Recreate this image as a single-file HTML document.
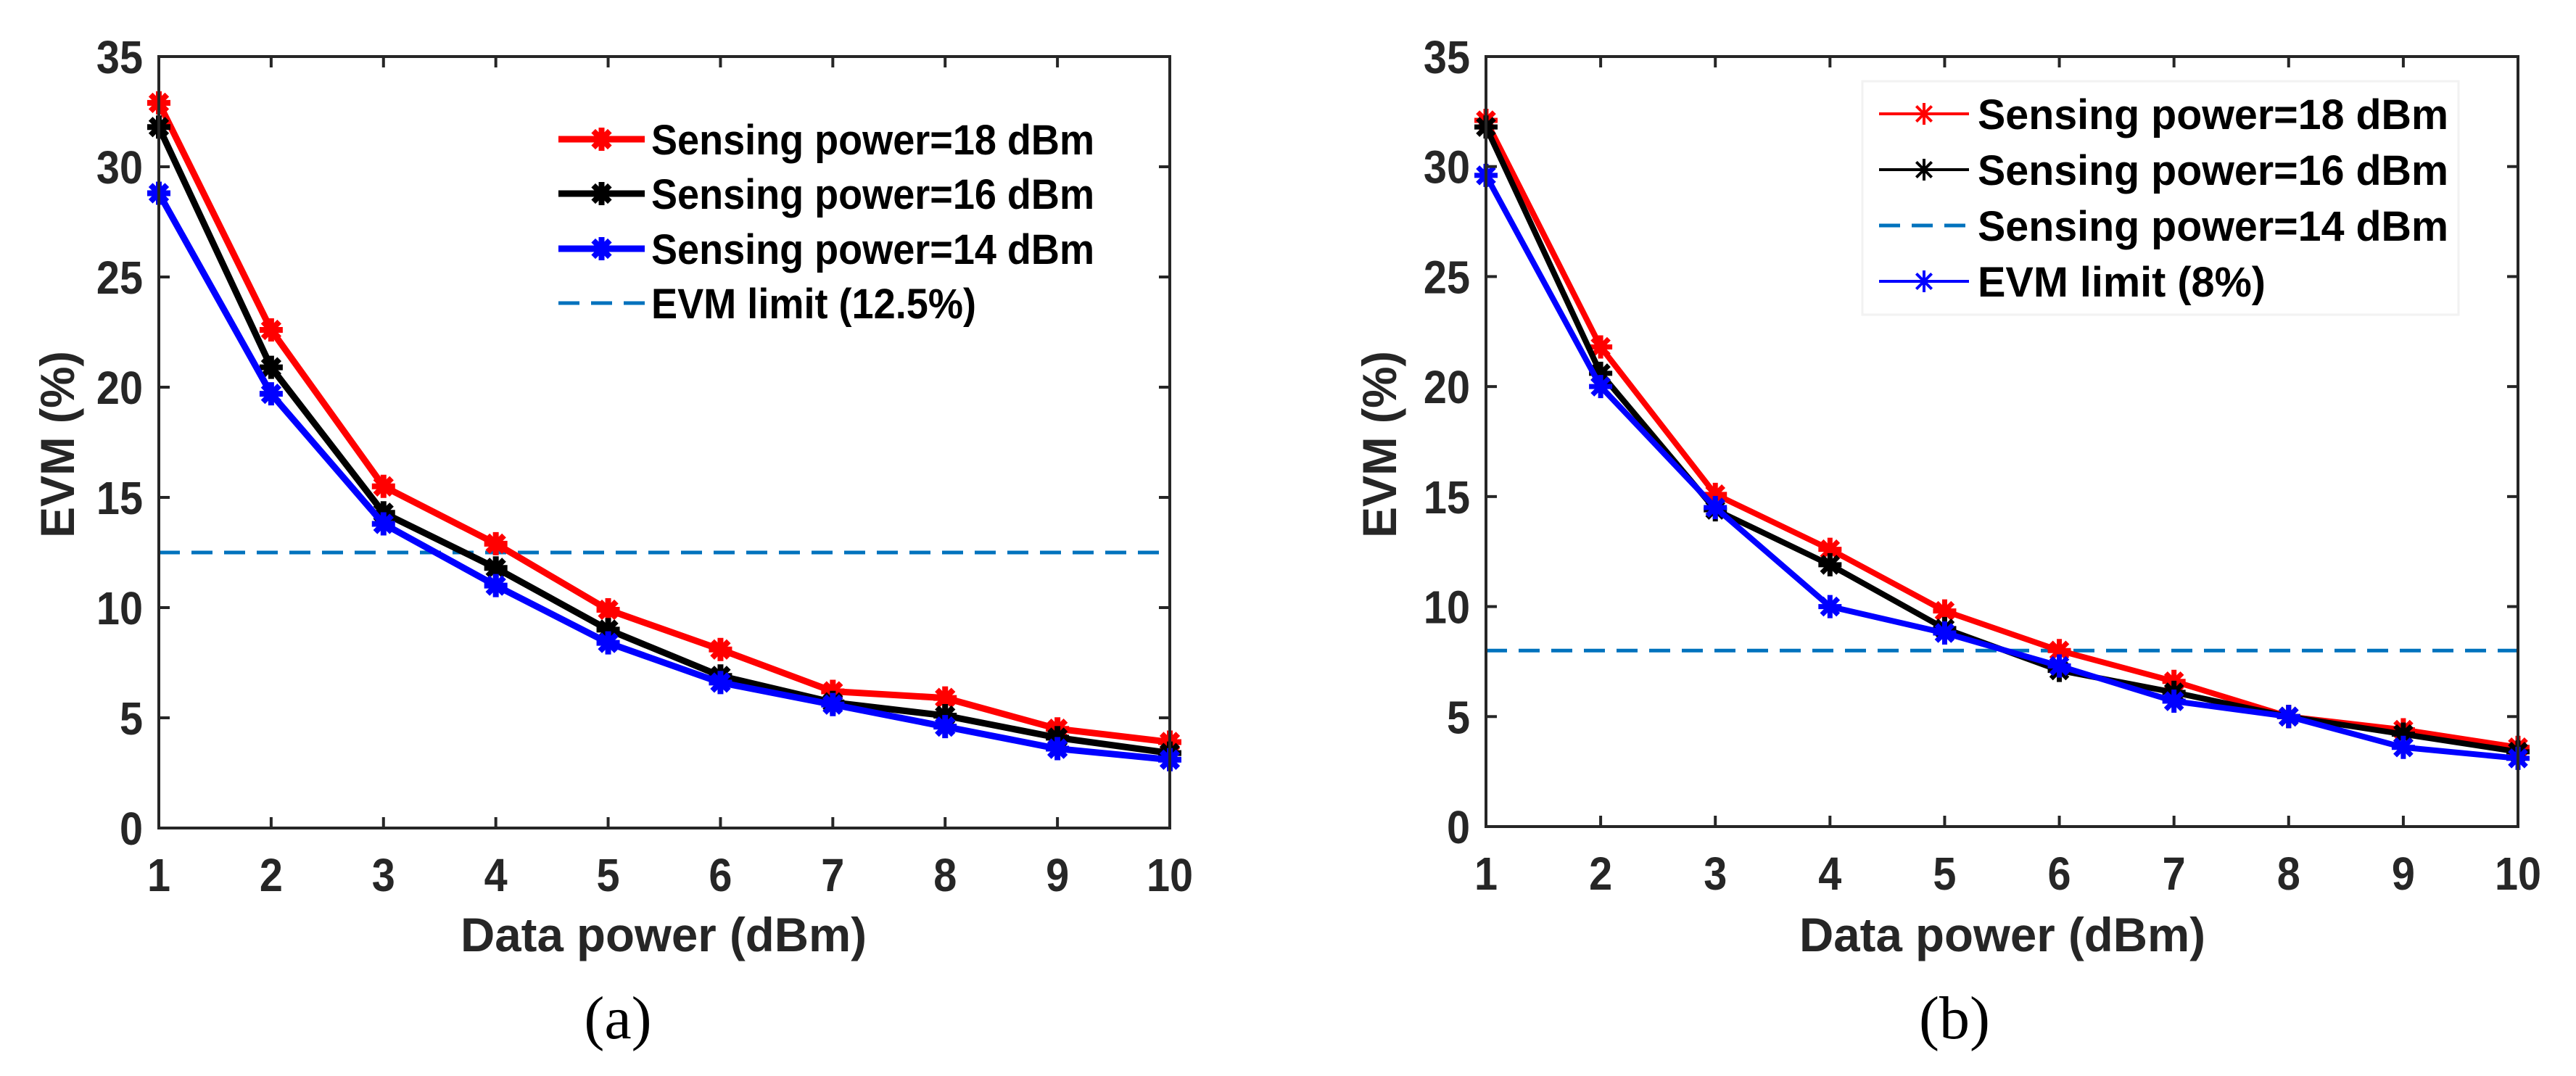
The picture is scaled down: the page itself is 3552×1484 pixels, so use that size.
<!DOCTYPE html>
<html><head><meta charset="utf-8"><style>
html,body{margin:0;padding:0;background:#fff}
svg{display:block}
text{font-family:"Liberation Sans",Arial,sans-serif;font-weight:bold}
</style></head><body>
<svg id="fig" width="3552" height="1484" viewBox="0 0 3552 1484" xmlns="http://www.w3.org/2000/svg"></svg>
<script>
const xCats=[1,2,3,4,5,6,7,8,9,10];
const yTicks=[0,5,10,15,20,25,30,35];
const aRed=[32.9,22.6,15.5,12.9,9.9,8.1,6.2,5.9,4.5,3.9];
const aBlack=[31.8,20.9,14.3,11.8,9.0,6.9,5.7,5.1,4.1,3.4];
const aBlue=[28.8,19.7,13.8,11.0,8.4,6.6,5.6,4.6,3.6,3.1];
const aLimit=12.5;
const bRed=[32.1,21.8,15.1,12.6,9.8,8.0,6.6,5.0,4.4,3.6];
const bBlack=[31.8,20.6,14.4,11.9,9.0,7.1,6.1,5.0,4.2,3.4];
const bBlue=[29.6,20.0,14.5,10.0,8.8,7.3,5.7,5.0,3.6,3.1];
const bLimit=8;
const aLegend=["Sensing power=18 dBm","Sensing power=16 dBm","Sensing power=14 dBm","EVM limit (12.5%)"];
const bLegend=["Sensing power=18 dBm","Sensing power=16 dBm","Sensing power=14 dBm","EVM limit (8%)"];

const NS="http://www.w3.org/2000/svg";
const svg=document.getElementById('fig');
function mk(tag,attrs,parent){const e=document.createElementNS(NS,tag);for(const k in attrs)e.setAttribute(k,attrs[k]);(parent||svg).appendChild(e);return e;}
function star(g,x,y,r,color,sw){
  const s=mk('g',{},g);
  
  
  for(let i=0;i<4;i++){const a=i*Math.PI/4;
    mk('line',{x1:x-r*Math.cos(a),y1:y-r*Math.sin(a),x2:x+r*Math.cos(a),y2:y+r*Math.sin(a),stroke:color,'stroke-width':sw},s);}
}
function panel(P){
  const g=mk('g',{});
  
  
  const X=v=>P.x0+(v-1)*(P.x1-P.x0)/9;
  const Y=v=>P.y1-v*(P.y1-P.y0)/35;
  const lim=mk('line',{x1:P.x0,x2:P.x1,y1:Y(P.limit),y2:Y(P.limit),stroke:'#0072BD','stroke-width':5,'stroke-dasharray':'29 16'},g);
  
  
  P.series.forEach(s=>{
    const sg=mk('g',{},g);
    
    
    const pts=s.data.map((v,i)=>X(xCats[i])+','+Y(v)).join(' ');
    mk('polyline',{points:pts,fill:'none',stroke:s.color,'stroke-width':P.lw,'stroke-linejoin':'round'},sg);
    s.data.forEach((v,i)=>star(sg,X(xCats[i]),Y(v),P.mr,s.color,P.msw));
  });
  const box=mk('rect',{x:P.x0,y:P.y0,width:P.x1-P.x0,height:P.y1-P.y0,fill:'none',stroke:'#262626','stroke-width':4},g);
  
  
  xCats.forEach(c=>{
    mk('line',{x1:X(c),x2:X(c),y1:P.y1,y2:P.y1-15,stroke:'#262626','stroke-width':4},g);
    mk('line',{x1:X(c),x2:X(c),y1:P.y0,y2:P.y0+15,stroke:'#262626','stroke-width':4},g);
    const t=mk('text',{x:X(c),y:P.y1+87,'text-anchor':'middle','font-size':64,fill:'#262626',transform:`translate(${X(c)},0) scale(0.9,1) translate(${-X(c)},0)`},g);
    t.textContent=c;
    
    
  });
  yTicks.forEach(v=>{
    mk('line',{x1:P.x0,x2:P.x0+15,y1:Y(v),y2:Y(v),stroke:'#262626','stroke-width':4},g);
    mk('line',{x1:P.x1,x2:P.x1-15,y1:Y(v),y2:Y(v),stroke:'#262626','stroke-width':4},g);
    const t=mk('text',{x:P.x0-22,y:Y(v)+23,'text-anchor':'end','font-size':64,fill:'#262626',transform:`translate(${P.x0-22},0) scale(0.9,1) translate(${-(P.x0-22)},0)`},g);
    t.textContent=v;
    
    
  });
  const xt=mk('text',{x:P.xtx,y:1312,'text-anchor':'middle','font-size':66,fill:'#262626',textLength:560,lengthAdjust:'spacingAndGlyphs'},g);
  xt.textContent='Data power (dBm)';
  
  
  const yt=mk('text',{x:0,y:0,'text-anchor':'middle','font-size':66,fill:'#262626',textLength:258,lengthAdjust:'spacingAndGlyphs',transform:`translate(${P.ytx},613) rotate(-90)`},g);
  yt.textContent='EVM (%)';
  
  
  const cap=mk('text',{x:P.capx,y:1432,'text-anchor':'middle','font-size':84,fill:'#000',style:'font-family:"Liberation Serif",serif;font-weight:normal'},g);
  cap.textContent=P.cap;
  
  
  const lg=mk('g',{},g);
  
  
  if(P.legBox) mk('rect',{x:P.legBox[0],y:P.legBox[1],width:P.legBox[2],height:P.legBox[3],fill:'#fff',stroke:'#f2f2f2','stroke-width':3},lg);
  P.legend.forEach((lab,i)=>{
    const e=mk('g',{},lg);
    
    
    const y=P.legY[i], st=P.legStyle[i];
    if(st==='dash') mk('line',{x1:P.legX0,x2:P.legX1,y1:y,y2:y,stroke:'#0072BD','stroke-width':5,'stroke-dasharray':'29 16'},e);
    else{mk('line',{x1:P.legX0,x2:P.legX1,y1:y,y2:y,stroke:st,'stroke-width':P.legLw},e);
      star(e,(P.legX0+P.legX1)/2,y,P.legMr,st,P.legMsw);}
    const t=mk('text',{x:P.legTx,y:y+21,'font-size':58,fill:'#000',textLength:P.legW[i],lengthAdjust:'spacingAndGlyphs'},e);
    t.textContent=lab;
  });
}
panel({name:'panel-a',x0:219,x1:1613,y0:78,y1:1142,limit:aLimit,lw:9,mr:16,msw:8,
  series:[{name:'series-18dbm',color:'#ff0000',data:aRed},{name:'series-16dbm',color:'#000',data:aBlack},{name:'series-14dbm',color:'#0000ff',data:aBlue}],
  xtx:915,ytx:102,capx:852,cap:'(a)',legend:aLegend,legY:[192,267,343,418],legStyle:['#ff0000','#000','#0000ff','dash'],
  legX0:770,legX1:889,legTx:898,legW:[611,611,611,448],legLw:9,legMr:16,legMsw:8});
panel({name:'panel-b',x0:2049,x1:3472,y0:78,y1:1140,limit:bLimit,lw:8,mr:16,msw:7,
  series:[{name:'series-18dbm',color:'#ff0000',data:bRed},{name:'series-16dbm',color:'#000',data:bBlack},{name:'series-14dbm',color:'#0000ff',data:bBlue}],
  xtx:2761,ytx:1925,capx:2695,cap:'(b)',legend:bLegend,legY:[157,234,311,388],legStyle:['#ff0000','#000','dash','#0000ff'],
  legBox:[2568,112,822,322],legX0:2591,legX1:2715,legTx:2727,legW:[649,649,649,397],legLw:4,legMr:15,legMsw:4});
</script>
</body></html>
